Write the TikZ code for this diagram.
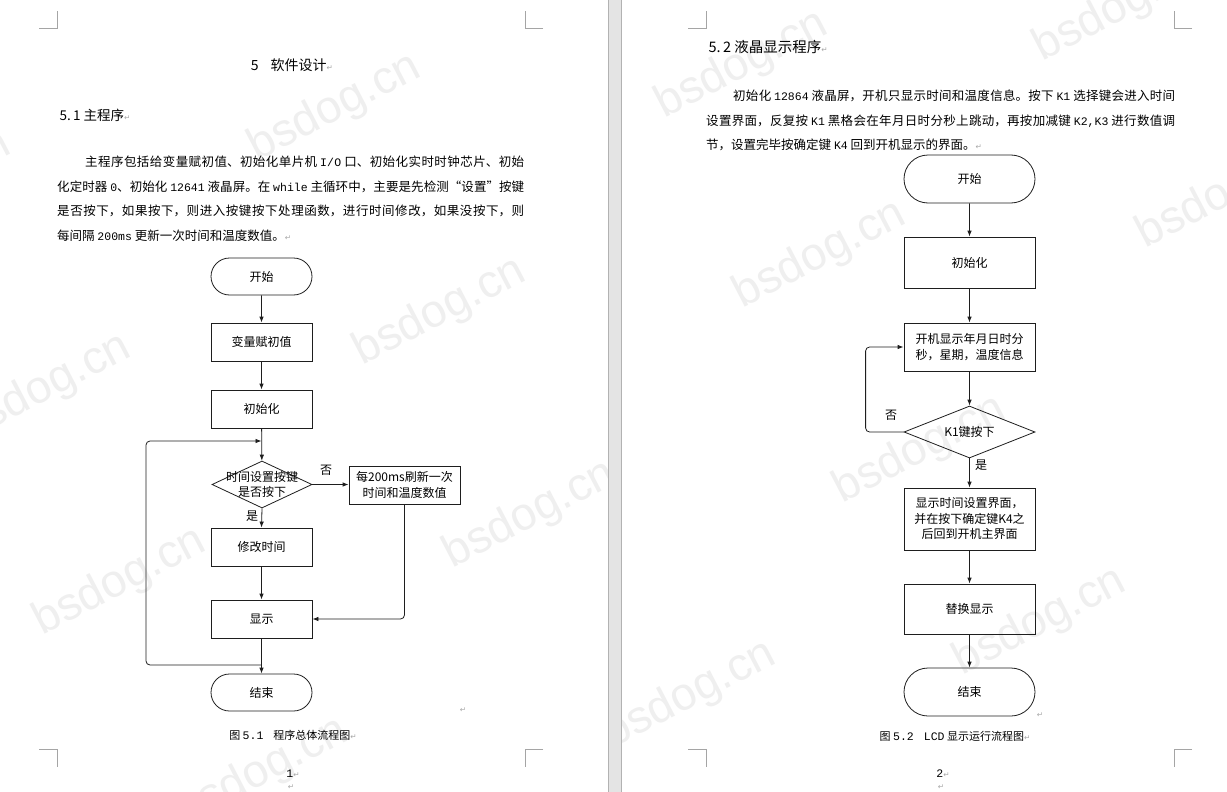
\documentclass[tikz,border=0pt]{standalone}
\usepackage{fontspec}
\setmainfont{Noto Sans CJK SC}
\newfontfamily\monofnt{Liberation Mono}
\newfontfamily\wmfnt{Liberation Sans}
\newfontfamily\symfnt{DejaVu Sans}
\usetikzlibrary{arrows.meta, positioning, shapes.geometric, shapes.misc}
\definecolor{wmgray}{RGB}{239, 239, 239}
\definecolor{gapgray}{RGB}{228, 228, 228}
\definecolor{cropgray}{RGB}{165, 165, 165}
\definecolor{inkgray}{RGB}{30, 30, 30}
\XeTeXlinebreaklocale "zh"
\XeTeXlinebreakskip=0pt plus 3pt minus 0.5pt
\newcommand\asc[1]{{\monofnt\fontsize{11.5pt}{24.5pt}\selectfont #1}}
\newcommand\pmark{{\symfnt\fontsize{7.5pt}{7.5pt}\selectfont\color{gray!70}↵}}

\begin{document}
\begin{tikzpicture}[x=1pt, y=-1pt,
  term/.style={draw=inkgray, line width=0.8pt, rounded rectangle, minimum width=101pt,
        minimum height=37pt, inner sep=0pt, font=\fontsize{12pt}{15.5pt}\selectfont},
  procbox/.style={draw=inkgray, line width=0.8pt, rectangle, minimum width=101pt,
        minimum height=38pt, inner sep=1pt, align=center, font=\fontsize{12pt}{15.5pt}\selectfont},
  decide/.style={draw=inkgray, line width=0.8pt, diamond, minimum width=100pt,
        minimum height=47pt, inner sep=0pt},
  dtext/.style={inner sep=0pt, align=center, font=\fontsize{12pt}{15pt}\selectfont},
  lbl/.style={inner sep=0pt, font=\fontsize{12pt}{12pt}\selectfont},
  para/.style={anchor=north west, inner sep=0pt, align=justify,
        font=\fontsize{12.5pt}{24.5pt}\selectfont},
  captxt/.style={inner sep=0pt, font=\fontsize{11pt}{11pt}\selectfont},
  arr/.style={draw=inkgray, line width=0.8pt, -{Latex[length=6pt, width=4.5pt]}},
  crop/.style={draw=cropgray, line width=1pt},
  wm/.style={text=wmgray, rotate=27.5, inner sep=0pt,
        font=\wmfnt\fontsize{46pt}{46pt}\selectfont}]
  \useasboundingbox (0,0) rectangle (1227,792);
  \fill[white] (0,0) rectangle (1227,792);

  % watermarks
  \begin{scope}
    \clip (0,0) rectangle (608,792);
    \foreach \wx/\wy [count=\wi] in {335/108, 440/312, 45/388, 530/515, 120/582, 262/772, -75/185}
      \node[wm] (wmL\wi) at (\wx,\wy) {bsdog.cn};
  \end{scope}
  \begin{scope}
    \clip (622,0) rectangle (1227,792);
    \foreach \wx/\wy [count=\wi] in {742/65, 1120/8, 820/255, 1223/195, 920/450, 1040/622, 690/695}
      \node[wm] (wmR\wi) at (\wx,\wy) {bsdog.cn};
  \end{scope}

  % gap between the pages
  \fill[gapgray] (608,0) rectangle (622,792);
  \draw[gray!60] (608.5,0) -- (608.5,792);
  \draw[gray!60] (621.5,0) -- (621.5,792);

  % crop marks
  \draw[crop] (39,29) -- (57,29) -- (57,11);
  \draw[crop] (543,29) -- (525,29) -- (525,11);
  \draw[crop] (39,749) -- (57,749) -- (57,767);
  \draw[crop] (543,749) -- (525,749) -- (525,767);
  \draw[crop] (688,29) -- (706,29) -- (706,11);
  \draw[crop] (1192,29) -- (1174,29) -- (1174,11);
  \draw[crop] (688,749) -- (706,749) -- (706,767);
  \draw[crop] (1192,749) -- (1174,749) -- (1174,767);

  % page 1 text
  \node[font=\fontsize{14pt}{14pt}\selectfont] (ch5) at (292,65) {5\hspace{12pt}软件设计\pmark};
  \node[anchor=west, font=\fontsize{13.5pt}{13.5pt}\selectfont] (sec1) at (56,115) {5.\,1 主程序\pmark};
  \node[para, text width=467pt] (txt1) at (57,156) {\hspace*{28pt}主程序包括给变量赋初值、初始化单片机 \asc{I/O} 口、初始化实时时钟芯片、初始\linebreak
    化定时器 \asc{0}、初始化 \asc{12641} 液晶屏。在 \asc{while} 主循环中，主要是先检测“设置”按键\linebreak
    是否按下，如果按下，则进入按键按下处理函数，进行时间修改，如果没按下，则\linebreak
    每间隔 \asc{200ms} 更新一次时间和温度数值。\pmark};

  % flowchart 5.1
  \node[term] (st1) at (261.5,276.5) {开始};
  \node[procbox] (var1) at (261.5,342) {变量赋初值};
  \node[procbox] (ini1) at (261.5,409) {初始化};
  \node[decide] (dec1) at (262,484.5) {};
  \node[dtext] (dect1) at (dec1.center) {时间设置按键\\是否按下};
  \node[procbox, minimum width=111pt] (ref1) at (404.5,485) {每200ms刷新一次\\时间和温度数值};
  \node[procbox] (mod1) at (261.5,547) {修改时间};
  \node[procbox] (dis1) at (261.5,619) {显示};
  \node[term] (end1) at (261.5,692.5) {结束};
  \node[lbl] (no1) at (326,470) {否};
  \node[lbl] (yes1) at (252,516) {是};
  \coordinate (lpA) at (261.5,665);
  \coordinate (lpB) at (261.5,441);

  \draw[arr] (st1) -- (var1);
  \draw[arr] (var1) -- (ini1);
  \draw[arr] (ini1) -- (dec1);
  \draw[arr] (dec1.east) -- (dec1.east -| ref1.west);
  \draw[arr] (dec1.south) -- (mod1.north);
  \draw[arr] (mod1) -- (dis1);
  \draw[arr, rounded corners=4pt] (ref1.south) |- (dis1.east);
  \draw[arr] (dis1) -- (end1);
  \draw[arr, rounded corners=4pt] (lpA) -- ++(-115.5,0) |- (lpB);

  \node[captxt] (cap1) at (293,735) {图 \asc{5.1}\hspace{10pt}程序总体流程图\pmark};
  \node[inner sep=0pt] (pm1) at (463,710) {\pmark};
  \node[inner sep=0pt] (pg1) at (293,774) {\asc{1}\pmark};
  \node[inner sep=0pt] (pm2) at (291,787) {\pmark};

  % page 2 text
  \node[anchor=west, font=\fontsize{14.5pt}{14.5pt}\selectfont] (sec2) at (705,47) {5.\,2 液晶显示程序\pmark};
  \node[para, text width=469pt] (txt2) at (706,90) {\hspace*{27pt}初始化 \asc{12864} 液晶屏，开机只显示时间和温度信息。按下 \asc{K1} 选择键会进入时间\linebreak
    设置界面，反复按 \asc{K1} 黑格会在年月日时分秒上跳动，再按加减键 \asc{K2,K3} 进行数值调\linebreak
    节，设置完毕按确定键 \asc{K4} 回到开机显示的界面。\pmark};

  % flowchart 5.2
  \node[term, minimum width=131pt, minimum height=48pt] (st2) at (969.5,179) {开始};
  \node[procbox, minimum width=131pt, minimum height=51pt] (ini2) at (969.5,262.5) {初始化};
  \node[procbox, minimum width=131pt, minimum height=48pt] (shw2) at (969.5,347) {开机显示年月日时分\\秒，星期，温度信息};
  \node[decide, minimum width=131pt, minimum height=52pt] (dec2) at (969.5,432) {};
  \node[dtext] (dect2) at (dec2.center) {K1键按下};
  \node[procbox, minimum width=131pt, minimum height=62pt] (set2) at (969.5,519) {显示时间设置界面，\\并在按下确定键K4之\\后回到开机主界面};
  \node[procbox, minimum width=131pt, minimum height=50pt] (rep2) at (969.5,609) {替换显示};
  \node[term, minimum width=131pt, minimum height=48pt] (end2) at (969.5,692) {结束};
  \node[lbl] (no2) at (891,415) {否};
  \node[lbl] (yes2) at (981,465) {是};

  \draw[arr] (st2) -- (ini2);
  \draw[arr] (ini2) -- (shw2);
  \draw[arr] (shw2) -- (dec2);
  \draw[arr] (dec2) -- (set2);
  \draw[arr] (set2) -- (rep2);
  \draw[arr] (rep2) -- (end2);
  \draw[arr, rounded corners=4pt] (dec2.west) -- ++(-38,0) |- (shw2.west);

  \node[captxt] (cap2) at (955,736) {图 \asc{5.2}\hspace{10pt}\asc{LCD} 显示运行流程图\pmark};
  \node[inner sep=0pt] (pm3) at (1040,715) {\pmark};
  \node[inner sep=0pt] (pg2) at (943,774) {\asc{2}\pmark};
  \node[inner sep=0pt] (pm4) at (941,787) {\pmark};
\end{tikzpicture}
\end{document}
